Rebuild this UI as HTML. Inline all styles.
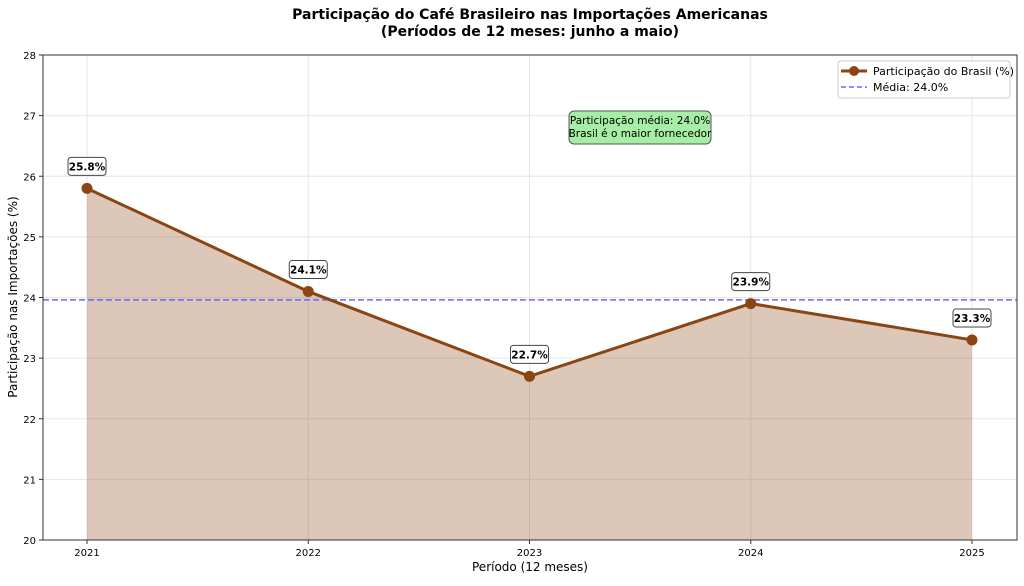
<!DOCTYPE html>
<html><head><meta charset="utf-8"><style>
body{margin:0;background:#fff;}
svg text{font-family:"DejaVu Sans","Liberation Sans",sans-serif;}
</style></head><body>
<svg id="chart" width="1024" height="581" viewBox="0 0 1024 581" xmlns="http://www.w3.org/2000/svg">
<rect width="1024" height="581" fill="#fff"/>
<text x="530" y="19" text-anchor="middle" font-size="14" font-weight="bold">Participação do Café Brasileiro nas Importações Americanas</text>
<text x="530" y="36" text-anchor="middle" font-size="14" font-weight="bold">(Períodos de 12 meses: junho a maio)</text>
<g id="grid"></g>
<g id="plot"></g>
<rect x="43" y="55" width="974" height="485" fill="none" stroke="#333" stroke-width="1"/>
<g id="axes"></g>
<text x="530" y="571" text-anchor="middle" font-size="12">Período (12 meses)</text>
<text transform="translate(17,297) rotate(-90)" text-anchor="middle" font-size="12">Participação nas Importações (%)</text>
<g>
<rect x="569" y="111" width="142" height="33" rx="5" fill="#a6eea6" stroke="#555"/>
<text x="640" y="124" text-anchor="middle" font-size="10.5">Participação média: 24.0%</text>
<text x="640" y="137" text-anchor="middle" font-size="10.5">Brasil é o maior fornecedor</text>
</g>
<g>
<rect x="838" y="61" width="172" height="37" rx="3" fill="#fff" stroke="#ccc"/>
<line x1="841" y1="71" x2="867" y2="71" stroke="#8B4513" stroke-width="3"/>
<circle cx="854" cy="71" r="5" fill="#8B4513"/>
<text x="873" y="75" font-size="11">Participação do Brasil (%)</text>
<line x1="841" y1="87" x2="867" y2="87" stroke="#6666ff" stroke-width="1.5" stroke-dasharray="5,3"/>
<text x="873" y="91" font-size="11">Média: 24.0%</text>
</g>
</svg>
<script>
const categories = ["2021","2022","2023","2024","2025"];
const shares = [25.8, 24.1, 22.7, 23.9, 23.3];
const meanValue = 23.96;
const yTicks = [20,21,22,23,24,25,26,27,28];
const labels = ["25.8%","24.1%","22.7%","23.9%","23.3%"];

const NS="http://www.w3.org/2000/svg";
function xs(i){return 87 + i*(972-87)/(categories.length-1);}
function ys(v){return 540 - (v-20)*(485/8);}
function mk(tag,attrs,parent){const e=document.createElementNS(NS,tag);for(const k in attrs)e.setAttribute(k,attrs[k]);parent.appendChild(e);return e;}
const grid=document.getElementById('grid'),plot=document.getElementById('plot'),axes=document.getElementById('axes');
yTicks.forEach(t=>{
  const g=mk('line',{x1:43,x2:1017,y1:ys(t),y2:ys(t),stroke:'#e6e6e6','stroke-width':1},grid);
  
  
  const tk=mk('line',{x1:39,x2:43,y1:ys(t),y2:ys(t),stroke:'#333'},axes);
  const tx=mk('text',{x:36,y:ys(t)+4,'text-anchor':'end','font-size':10},axes);
  tx.textContent=t;
  
  
});
categories.forEach((c,i)=>{
  const g=mk('line',{x1:xs(i),x2:xs(i),y1:55,y2:540,stroke:'#e6e6e6'},grid);
  
  
  mk('line',{x1:xs(i),x2:xs(i),y1:540,y2:544,stroke:'#333'},axes);
  const tx=mk('text',{x:xs(i),y:556,'text-anchor':'middle','font-size':10},axes);
  tx.textContent=c;
  
  
});
let pts=shares.map((v,i)=>xs(i)+','+ys(v)).join(' ');
const area=mk('polygon',{points:xs(0)+',540 '+pts+' '+xs(shares.length-1)+',540',fill:'#8B4513','fill-opacity':0.3},plot);


const ml=mk('line',{x1:43,x2:1017,y1:ys(meanValue),y2:ys(meanValue),stroke:'#6666ff','stroke-width':1.5,'stroke-dasharray':'6,3'},plot);


const ln=mk('polyline',{points:pts,fill:'none',stroke:'#8B4513','stroke-width':3},plot);


shares.forEach((v,i)=>{
  const c=mk('circle',{cx:xs(i),cy:ys(v),r:5.5,fill:'#8B4513'},plot);
  
  
  const g=mk('g',{},plot);
  
  
  const y=ys(v)-22;
  mk('rect',{x:xs(i)-19,y:y-9,width:38,height:18,rx:3,fill:'#fff',stroke:'#444'},g);
  const t=mk('text',{x:xs(i),y:y+4,'text-anchor':'middle','font-size':10.5,'font-weight':'bold'},g);
  t.textContent=labels[i];
});
</script>
</body></html>
